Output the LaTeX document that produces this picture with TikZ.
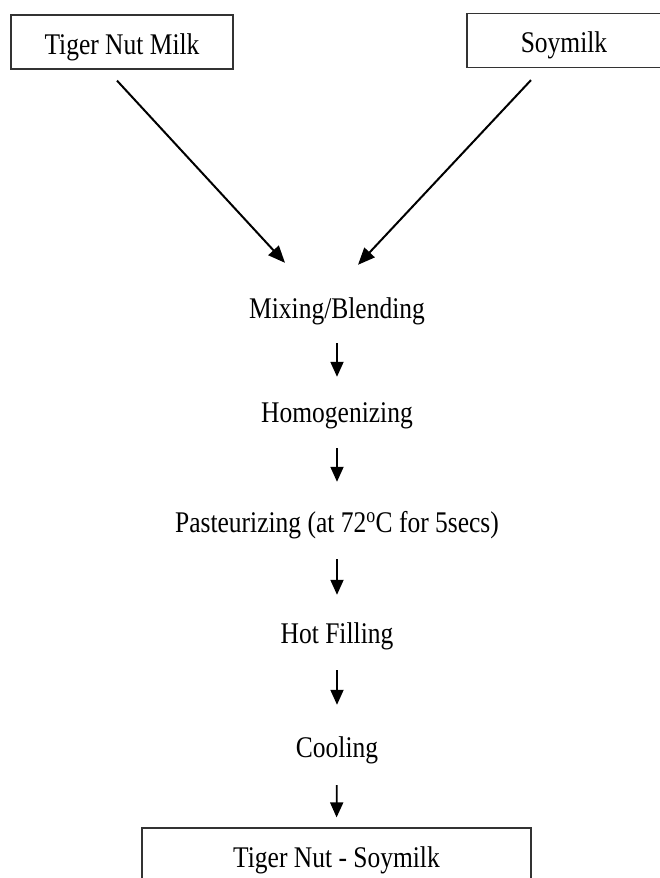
\documentclass[tikz,border=0pt]{standalone}
\usepackage{fontspec}
\setmainfont{Liberation Serif}
\usetikzlibrary{arrows.meta}
\newcommand{\sqz}[1]{\scalebox{0.85}[1]{#1}}
\tikzset{
  every node/.style={font=\fontsize{30}{36}\selectfont},
  lbl/.style={inner sep=0pt, text height=21pt, text depth=7pt, anchor=base},
  boxnode/.style={draw=black!80, line width=1.2pt, inner sep=0pt, text height=28pt, text depth=4pt, minimum height=54pt},
  varr/.style={line width=1.8pt, -{Triangle[length=15pt,width=13pt]}},
  darr/.style={line width=2pt, -{Triangle[length=17pt,width=14pt]}}
}
\begin{document}
\begin{tikzpicture}[x=1pt,y=-1pt]
\useasboundingbox (0,0) rectangle (659,878);
\node[boxnode, minimum width=222pt] (tnm) at (122,42) {\sqz{Tiger Nut Milk}};
\node[boxnode, minimum width=194pt] (soy) at (564,40.5) {\sqz{Soymilk}};
\node[lbl] (mix) at (337,318) {\sqz{Mixing/Blending}};
\node[lbl] (hom) at (337,422) {\sqz{Homogenizing}};
\node[lbl] (past) at (337,532) {\sqz{Pasteurizing (at 72\textsuperscript{o}C for 5secs)}};
\node[lbl] (hot) at (337,643) {\sqz{Hot Filling}};
\node[lbl] (cool) at (337,757) {\sqz{Cooling}};
\node[draw=black!80, line width=1.2pt, inner sep=0pt, text height=25pt, text depth=7pt, minimum width=389pt, minimum height=60pt] (fin) at (336.5,858) {\sqz{Tiger Nut - Soymilk}};
\draw[darr] ([xshift=-5pt,yshift=-11pt]tnm.south) -- ([xshift=-52pt,yshift=34pt]mix.north);
\draw[darr] ([xshift=-33pt,yshift=-12pt]soy.south) -- ([xshift=21pt,yshift=32pt]mix.north);
\draw[varr, shorten <=18pt, shorten >=24pt] (mix.south) -- (hom.north);
\draw[varr, shorten <=19pt, shorten >=29pt] (hom.south) -- (past.north);
\draw[varr, shorten <=20pt, shorten >=27pt] (past.south) -- (hot.north);
\draw[varr, shorten <=20pt, shorten >=31pt] (hot.south) -- (cool.north);
\draw[varr, shorten <=21pt, shorten >=10pt] (cool.south) -- (fin.north);
\end{tikzpicture}
\end{document}
